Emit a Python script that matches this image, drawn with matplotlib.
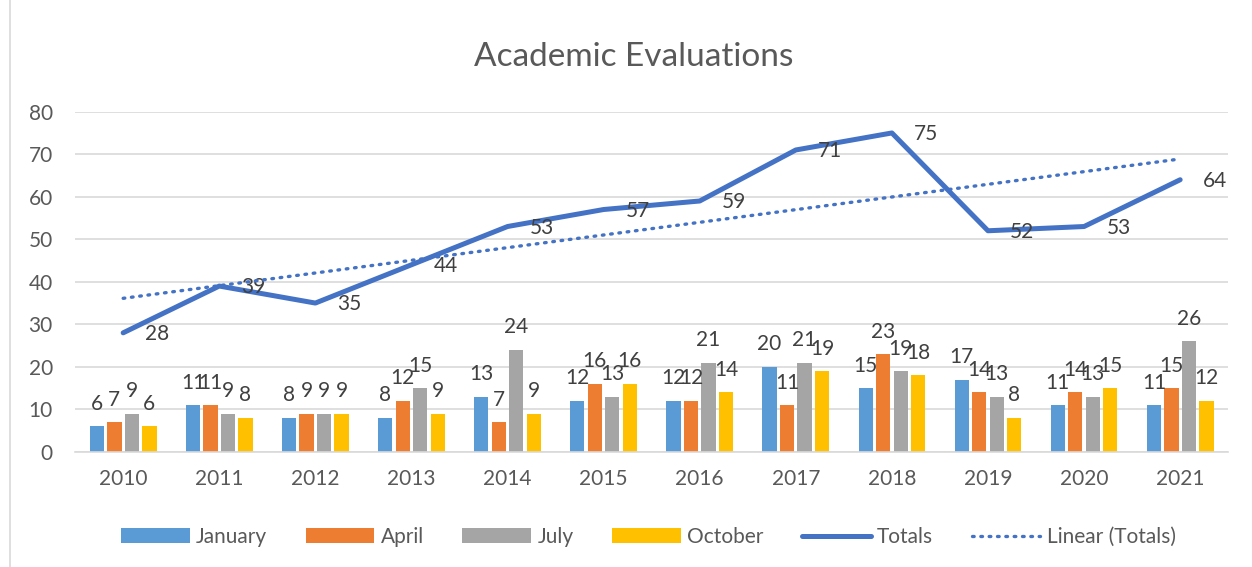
import numpy as np
import matplotlib.pyplot as plt
from matplotlib.patches import Rectangle

plt.rcParams['font.family'] = ['Lato', 'DejaVu Sans']

years = ['2010', '2011', '2012', '2013', '2014', '2015',
         '2016', '2017', '2018', '2019', '2020', '2021']
january = [6, 11, 8, 8, 13, 12, 12, 20, 15, 17, 11, 11]
april = [7, 11, 9, 12, 7, 16, 12, 11, 23, 14, 14, 15]
july = [9, 9, 9, 15, 24, 13, 21, 21, 19, 13, 13, 26]
october = [6, 8, 9, 9, 9, 16, 14, 19, 18, 8, 15, 12]
totals = [28, 39, 35, 44, 53, 57, 59, 71, 75, 52, 53, 64]

series = [('January', january, '#5B9BD5'),
          ('April', april, '#ED7D31'),
          ('July', july, '#A5A5A5'),
          ('October', october, '#FFC000')]

txt = '#595959'
lab = '#404040'
x = np.arange(len(years))

fig = plt.figure(figsize=(12.52, 5.67), dpi=100)
ax = fig.add_axes([0.060, 0.203, 0.921, 0.600])

# chart border (left edge visible in the original)
fig.add_artist(Rectangle((0.008, -0.01), 1.1, 1.1, transform=fig.transFigure,
                         fill=False, edgecolor='#D9D9D9', lw=1.2))

slot = 0.182
bw = 0.148
handles = []
for i, (name, vals, col) in enumerate(series):
    pos = x + (i - 1.5) * slot
    bars = ax.bar(pos, vals, bw, color=col, label=name, zorder=2)
    handles.append(bars)
    for p, v in zip(pos, vals):
        ax.annotate(str(v), (p, v), xytext=(0, 9), textcoords='offset points',
                    ha='center', va='bottom', fontsize=15, color=lab)

tl, = ax.plot(x, totals, color='#4472C4', lw=3.6, solid_capstyle='round',
              label='Totals', zorder=3)
handles.append(tl)
for xi, v in zip(x, totals):
    ax.annotate(str(v), (xi, v), xytext=(16, -1), textcoords='offset points',
                ha='left', va='center', fontsize=15, color=lab)

# linear trendline of totals
k, b = np.polyfit(x, totals, 1)
trend, = ax.plot(x, k * x + b, color='#4472C4', lw=2.4, linestyle=(0, (0.5, 2.0)),
                 dash_capstyle='round', label='Linear (Totals)', zorder=3)
handles.append(trend)

ax.set_xlim(-0.5, len(years) - 0.5)
ax.set_ylim(0, 80)
ax.set_yticks(range(0, 81, 10))
ax.set_xticks(x)
ax.set_xticklabels(years)
ax.grid(axis='y', color='#D9D9D9', lw=1.2, zorder=0)
ax.set_axisbelow(True)
for s in ['top', 'right', 'left']:
    ax.spines[s].set_visible(False)
ax.spines['bottom'].set_color('#D9D9D9')
ax.spines['bottom'].set_linewidth(1.2)
ax.tick_params(axis='both', length=0, labelsize=15, colors=txt)
ax.tick_params(axis='x', pad=12)
ax.tick_params(axis='y', pad=16)

fig.text(0.506, 0.900, 'Academic Evaluations', ha='center', va='center',
         fontsize=24, color=txt)

ax.legend(handles=handles, loc='center', bbox_to_anchor=(0.497, -0.25), ncol=6,
          frameon=False, fontsize=15, labelcolor=txt, handlelength=3.3,
          handleheight=0.7, columnspacing=1.85, handletextpad=0.3)

fig.savefig('out.png', dpi=100)
